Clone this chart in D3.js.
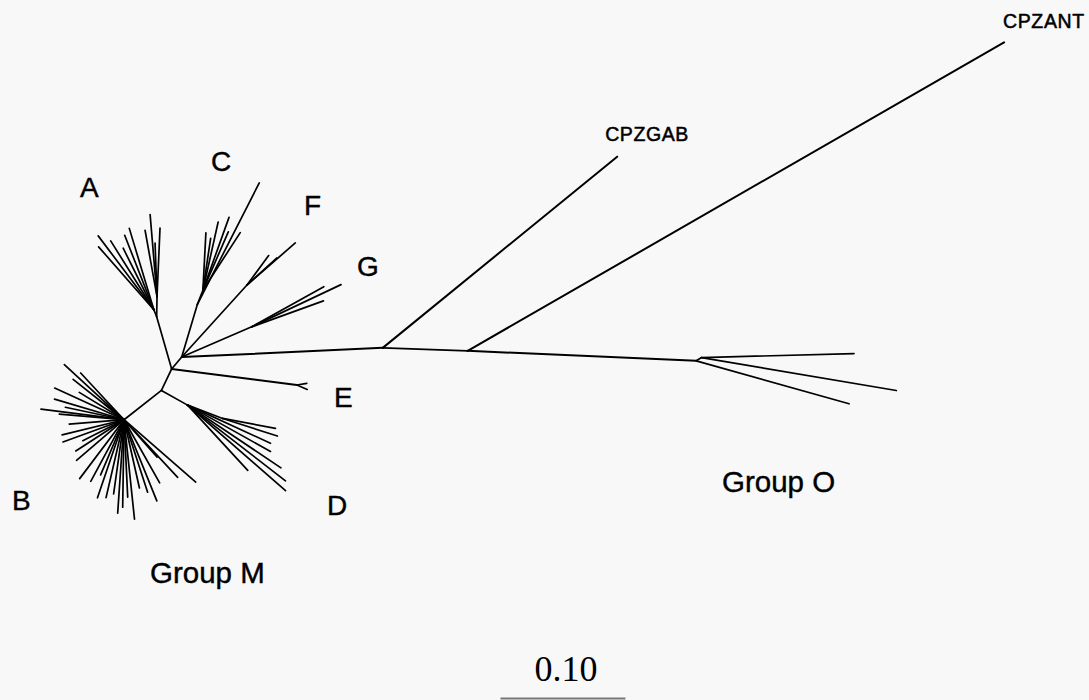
<!DOCTYPE html>
<html>
<head>
<meta charset="utf-8">
<script src="https://cdn.jsdelivr.net/npm/d3@7"></script>
<style>
  html, body { margin: 0; padding: 0; background: #f8f8f8; }
  svg { display: block; }
</style>
</head>
<body>
<svg id="tree" width="1089" height="700"></svg>
<script>
// branch rows: [id, parent, length (subst./site), angle (deg, 0 = right, ccw)]
const innerBranches = [
  ["m0", "m1", 0.0125, 230],
  ["nA", "m0", 0.0435, 106],
  ["nA1", "nA", 0.006, 112],
  ["nA2", "nA", 0.016, 89],
  ["nC", "m1", 0.044, 73.4],
  ["nC1", "nC", 0.012, 68.6],
  ["nF", "m1", 0.078, 47.8],
  ["nG", "m1", 0.061, 23.3],
  ["nE", "m0", 0.101, -7.3],
  ["m2", "m0", 0.019, 244.5],
  ["nD", "m2", 0.024, -29.4],
  ["nD1", "nD", 0.030, -20.8],
  ["nB", "m2", 0.038, 218.1],
  ["gab", "m1", 0.161, 2.6],
  ["ant", "gab", 0.068, -2.0],
  ["nO", "ant", 0.183, -2.5],
  ["nO2", "nO", 0.005, 31]
];

// leaves per attachment node: [length, angle]
const leavesA1 = [[0.074, 127.0], [0.067, 131.3], [0.065, 122.1], [0.055, 116.5], [0.064, 111.4], [0.068, 106.8]];
const leavesA2 = [[0.054, 100.2], [0.066, 94.8], [0.043, 92.1], [0.055, 87.5]];
const leavesC = [[0.109, 63.0]];
const leavesC1 = [[0.046, 87.0], [0.042, 81.5], [0.056, 77.4], [0.062, 70.3], [0.051, 66.5], [0.055, 57.1]];
const leavesF = [[0.051, 41.0], [0.029, 53.7], [0.032, 42.0]];
const leavesG = [[0.079, 25.3], [0.066, 29.1], [0.061, 19.9]];
const leavesE = [[0.008, 9.6], [0.009, -23.3]];
const leavesD = [[0.073, -24.7], [0.076, -29.2], [0.090, -33.9], [0.071, -47.3], [0.099, -37.7], [0.104, -41.1]];
const leavesD1 = [[0.043, -10.6], [0.046, -17.8]];
const leavesB = [
  [0.065, 137.3], [0.051, 132.9], [0.052, 141.6], [0.042, 148.6], [0.061, 155.5],
  [0.058, 163.5], [0.067, 172.7], [0.052, 175.0], [0.048, 168.0], [0.020, 141.4],
  [0.044, 184.5], [0.051, 193.7], [0.052, 200.0], [0.037, 206.9], [0.046, 212.9],
  [0.050, 220.5], [0.059, 233.0], [0.056, 241.6], [0.048, 247.0], [0.066, 251.2],
  [0.064, 257.0], [0.060, 262.0], [0.075, 266.1], [0.070, 269.1], [0.062, 272.7],
  [0.080, 276.0], [0.056, 282.7], [0.061, 288.0], [0.070, 292.0], [0.058, 299.4],
  [0.040, 311.4], [0.063, 312.9], [0.076, 319.0]
];
const leavesO = [[0.127, -15.7]];
const leavesO2 = [[0.122, 1.5], [0.158, -9.6]];
const namedLeaves = [["CPZGAB", "gab", 0.242, 39.2], ["CPZANT", "ant", 0.495, 29.9]];

const cladeNames = ["A", "B", "C", "D", "E", "F", "G"];
const groupNames = ["Group M", "Group O"];
const scaleValue = 0.10;

// build branch list
const branches = innerBranches.map(d => ({id: d[0], parent: d[1], len: d[2], angle: d[3]}));
const leafSets = [
  ["nA1", leavesA1], ["nA2", leavesA2], ["nC", leavesC], ["nC1", leavesC1],
  ["nF", leavesF], ["nG", leavesG], ["nE", leavesE], ["nD", leavesD],
  ["nD1", leavesD1], ["nB", leavesB], ["nO", leavesO], ["nO2", leavesO2]
];
leafSets.forEach(([p, arr]) => {
  arr.forEach((d, i) => branches.push({id: p + "_" + i, parent: p, len: d[0], angle: d[1]}));
});
namedLeaves.forEach(d => branches.push({id: d[0], parent: d[1], len: d[2], angle: d[3]}));

// node positions in data units, root m1 at the origin
const pos = {m1: {x: 0, y: 0}};
branches.forEach(b => {
  const p = pos[b.parent];
  const a = b.angle * Math.PI / 180;
  pos[b.id] = {x: p.x + b.len * Math.cos(a), y: p.y + b.len * Math.sin(a)};
});

// 0.10 substitutions = 125 px, same on both axes
const unit = 125;
const rootX = 181.7, rootY = 357;
const x = d3.scaleLinear().domain([0, scaleValue]).range([rootX, rootX + unit]);
const y = d3.scaleLinear().domain([0, scaleValue]).range([rootY, rootY - unit]);

const svg = d3.select("#tree");
svg.append("rect").attr("width", 1089).attr("height", 700).attr("fill", "#f8f8f8");

svg.append("g")
  .selectAll("line")
  .data(branches)
  .enter()
  .append("line")
  .attr("x1", d => x(pos[d.parent].x))
  .attr("y1", d => y(pos[d.parent].y))
  .attr("x2", d => x(pos[d.id].x))
  .attr("y2", d => y(pos[d.id].y))
  .attr("stroke", "#000")
  .attr("stroke-width", d => d.len > 0.1 && !d.id.includes("_") ? 2 : 1.7)
  .attr("stroke-linecap", "round");

const sans = "'Liberation Sans', Arial, sans-serif";

// clade letters
const letterPos = {A: [80, 197], B: [12, 510], C: [211, 171], D: [327, 515], E: [334, 407], F: [304, 215], G: [357, 276]};
svg.append("g")
  .selectAll("text")
  .data(cladeNames)
  .enter()
  .append("text")
  .attr("x", d => letterPos[d][0])
  .attr("y", d => letterPos[d][1])
  .text(d => d)
  .style("font-family", sans)
  .style("font-size", "28px")
  .attr("fill", "#000")
  .attr("stroke", "#000")
  .attr("stroke-width", 0.4);

// group labels
const groupPos = [[150, 583], [722, 492]];
svg.append("g")
  .selectAll("text")
  .data(groupNames)
  .enter()
  .append("text")
  .attr("x", (d, i) => groupPos[i][0])
  .attr("y", (d, i) => groupPos[i][1])
  .text(d => d)
  .style("font-family", sans)
  .style("font-size", "29.5px")
  .attr("fill", "#000")
  .attr("stroke", "#000")
  .attr("stroke-width", 0.4);

// named tips
const tipOffset = {CPZGAB: [-12, -16], CPZANT: [-1, -14]};
svg.append("g")
  .selectAll("text")
  .data(namedLeaves)
  .enter()
  .append("text")
  .attr("x", d => x(pos[d[0]].x) + tipOffset[d[0]][0])
  .attr("y", d => y(pos[d[0]].y) + tipOffset[d[0]][1])
  .text(d => d[0])
  .style("font-family", sans)
  .style("font-size", "19.5px")
  .style("letter-spacing", "0.6px")
  .attr("fill", "#000")
  .attr("stroke", "#000")
  .attr("stroke-width", 0.5);

// scale bar
const barStart = 0.255;
svg.append("line")
  .attr("x1", x(barStart))
  .attr("x2", x(barStart + scaleValue))
  .attr("y1", 698.5)
  .attr("y2", 698.5)
  .attr("stroke", "#777")
  .attr("stroke-width", 2);
svg.append("text")
  .attr("x", (x(barStart) + x(barStart + scaleValue)) / 2 + 3)
  .attr("y", 681)
  .attr("text-anchor", "middle")
  .text(scaleValue.toFixed(2))
  .style("font-family", "'Liberation Serif', 'Times New Roman', serif")
  .style("font-size", "36px")
  .attr("fill", "#000");
</script>
</body>
</html>
